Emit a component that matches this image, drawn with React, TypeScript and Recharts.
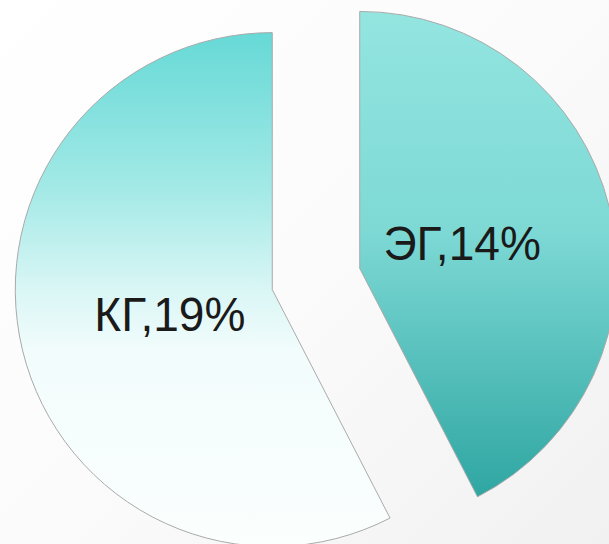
import { PieChart, Pie, Cell } from "recharts"

// groups and their shares (%)
const groups = ["ЭГ", "КГ"]
const shares = [14, 19]
const gradientIds = ["gradEG", "gradKG"]

const data = groups.map((name, i) => ({ name, value: shares[i] }))

const W = 609
const H = 544
const CX = 316
const CY = 279
const R = 257
const EXPLODE = 45
const RAD = Math.PI / 180

// mid angle of every slice (start at 12 o'clock, clockwise), used to explode them
const total = shares.reduce((a, b) => a + b, 0)
const offsets = shares.map((v, i) => {
  const before = shares.slice(0, i).reduce((a, b) => a + b, 0)
  const mid = 90 - ((before + v / 2) / total) * 360
  return { dx: EXPLODE * Math.cos(mid * RAD), dy: -EXPLODE * Math.sin(mid * RAD) }
})

const renderLabel = (props: any) => {
  const { cx, cy, midAngle, outerRadius, name, value } = props
  const r = outerRadius * 0.41
  const x = cx + r * Math.cos(-midAngle * RAD)
  const y = cy + r * Math.sin(-midAngle * RAD)
  return (
    <text
      transform={`translate(${x},${y}) scale(0.96,1)`}
      x={0}
      y={0}
      textAnchor="middle"
      dominantBaseline="central"
      fill="#1a1a1a"
      fontSize={48}
      fontFamily="'Liberation Sans', Arial, sans-serif"
    >
      {`${name},${value}%`}
    </text>
  )
}

export default function App() {
  return (
    <div
      style={{
        width: W,
        height: H,
        background: "linear-gradient(135deg, #ffffff 0%, #fbfbfb 50%, #f1f1f1 100%)",
      }}
    >
      <style>{`body{margin:0}`}</style>
      <PieChart width={W} height={H} margin={{ top: 0, right: 0, bottom: 0, left: 0 }}>
        <defs>
          <linearGradient id="gradEG" x1="0" y1="0" x2="0" y2="1">
            <stop offset="0%" stopColor="#93e5e0" />
            <stop offset="45%" stopColor="#7ed9d5" />
            <stop offset="100%" stopColor="#2fa6a2" />
          </linearGradient>
          <linearGradient id="gradKG" x1="0" y1="0" x2="0" y2="1">
            <stop offset="0%" stopColor="#66d9d6" />
            <stop offset="30%" stopColor="#a2e9e6" />
            <stop offset="50%" stopColor="#d9f6f5" />
            <stop offset="62%" stopColor="#f2fcfc" />
            <stop offset="100%" stopColor="#fbfffe" />
          </linearGradient>
        </defs>
        {data.map((d, i) => (
          <Pie
            key={d.name}
            data={data}
            dataKey="value"
            nameKey="name"
            cx={CX + offsets[i].dx}
            cy={CY + offsets[i].dy}
            outerRadius={R}
            startAngle={90}
            endAngle={-270}
            isAnimationActive={false}
            labelLine={false}
            label={(p: any) => (p.index === i ? renderLabel(p) : null)}
          >
            {data.map((_, j) => (
              <Cell
                key={j}
                fill={j === i ? `url(#${gradientIds[i]})` : "none"}
                stroke={j === i ? "#aaaaaa" : "none"}
                strokeWidth={1}
              />
            ))}
          </Pie>
        ))}
      </PieChart>
    </div>
  )
}
